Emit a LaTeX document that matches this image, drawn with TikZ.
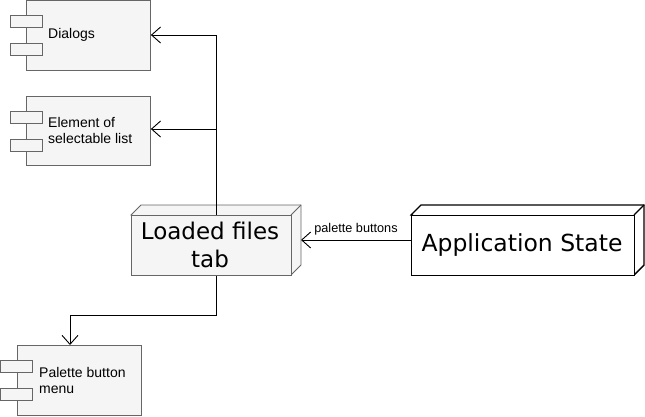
\documentclass[tikz,border=0pt]{standalone}
\usepackage{fontspec}
\setmainfont{Liberation Sans}
\newfontfamily\bigfont{DejaVu Sans}
\usetikzlibrary{arrows.meta}
\definecolor{boxgray}{HTML}{F5F5F5}
\definecolor{edgegray}{HTML}{666666}
\begin{document}
\begin{tikzpicture}[x=1pt,y=-1pt,
  comp/.style={draw=edgegray,fill=boxgray,line width=0.9pt},
  link/.style={draw=black,line width=0.9pt,-{Straight Barb[length=9pt,width=16pt,line width=0.9pt]}},
  lbl/.style={font=\fontsize{14}{16}\selectfont,align=left,anchor=west,inner sep=0pt},
  biglbl/.style={font=\bigfont\fontsize{23}{28}\selectfont,align=center,inner sep=0pt}]
\useasboundingbox (0,0) rectangle (645,417);
% Dialogs component
\node[comp,minimum width=124pt,minimum height=70pt,inner sep=0pt,anchor=north west] (dialogs) at (26,0.5) {};
\draw[comp] (10,15) rectangle (42,27);
\draw[comp] (10,43) rectangle (42,55);
\node[lbl] (dialogsT) at (48,35) {Dialogs};
% Element component
\node[comp,minimum width=124pt,minimum height=69pt,inner sep=0pt,anchor=north west] (element) at (26,96) {};
\draw[comp] (10,111) rectangle (42,123);
\draw[comp] (10,139) rectangle (42,151);
\node[lbl] (elementT) at (48,130) {Element of\\selectable list};
% Palette component
\node[comp,minimum width=124pt,minimum height=70pt,inner sep=0pt,anchor=north west] (palette) at (17,345) {};
\draw[comp] (0.5,360) rectangle (32,372);
\draw[comp] (0.5,388) rectangle (32,400);
\node[lbl] (paletteT) at (39,380) {Palette button\\menu};
% Loaded files tab node (3D box)
\draw[comp] (131,215) -- (141,205) -- (301,205) -- (301,265) -- (291,275) -- cycle;
\draw[comp] (291,215) -- (301,205);
\node[comp,minimum width=160pt,minimum height=60pt,inner sep=0pt,anchor=north west] (loaded) at (131,215) {};
\node[biglbl] (loadedT) at (210,245) {Loaded files\\tab};
% Application State node (3D box)
\draw[draw=black,fill=white,line width=1.4pt] (411,215) -- (421,205) -- (644,205) -- (644,265) -- (634,275) -- cycle;
\draw[black,line width=1.4pt] (634,215) -- (644,205);
\node[draw=black,fill=white,line width=1.4pt,minimum width=223pt,minimum height=60pt,inner sep=0pt,anchor=north west] (app) at (411,215) {};
\node[biglbl,font=\bigfont\fontsize{23.5}{28}\selectfont] (appT) at (522,245) {Application State};
% connectors
\coordinate (top) at (216,35);
\coordinate (mid) at (216,129);
\coordinate (bend) at (216,315);
\coordinate (bend2) at (70,315);
\draw[link] (loaded.north -| top) -- (top) -- (dialogs.east |- top);
\draw[link] (mid) -- (element.east |- mid);
\draw[link] (loaded.south -| bend) -- (bend) -- (bend2) -- (palette.north -| bend2);
\draw[link] (app.west |- 0,240) -- node[above=4pt,font=\fontsize{12.7}{14}\selectfont,inner sep=0pt] (pb) {palette buttons} (301,240);
\end{tikzpicture}
\end{document}
